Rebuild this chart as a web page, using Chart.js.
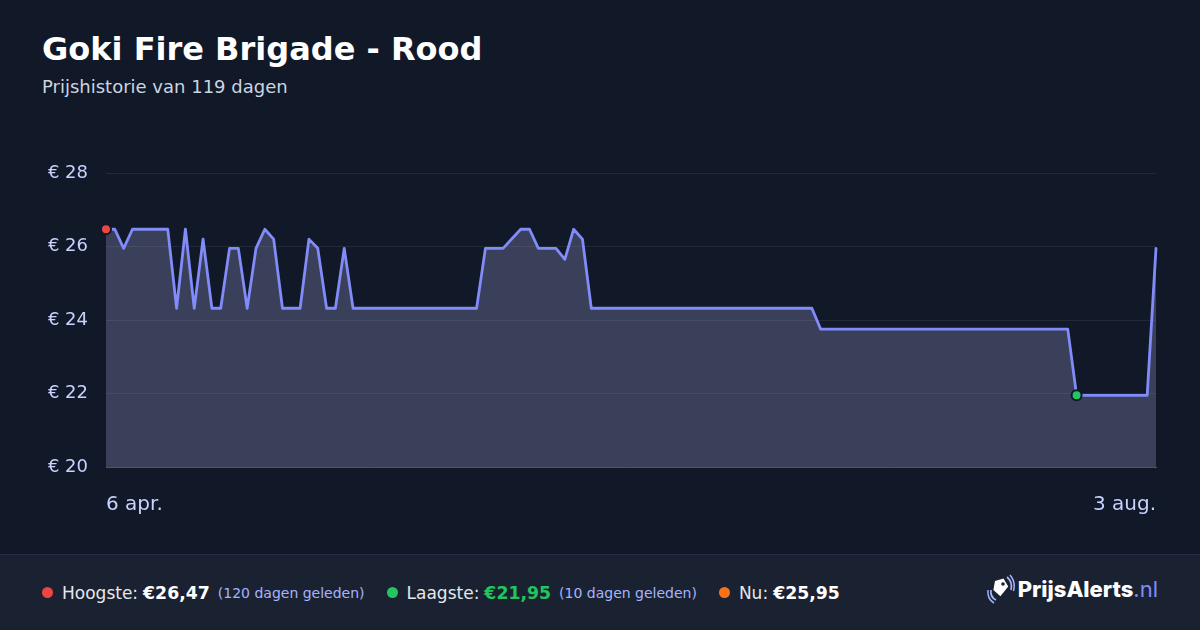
<!DOCTYPE html>
<html>
<head>
<meta charset="utf-8">
<script src="https://cdn.jsdelivr.net/npm/chart.js@4.4.0/dist/chart.umd.min.js"></script>
<style>
  html, body { margin: 0; padding: 0; }
  body {
    width: 1200px; height: 630px; overflow: hidden; position: relative;
    background: #111827; font-family: "DejaVu Sans", sans-serif; color: #fff;
  }
  #title {
    position: absolute; left: 42px; top: 30px; margin: 0;
    font-size: 32px; font-weight: bold; line-height: normal; color: #fff;
  }
  #subtitle {
    position: absolute; left: 42px; top: 76px;
    font-size: 18px; line-height: normal; color: #cbd5e1;
  }
  #chartBox { position: absolute; left: 0; top: 0; width: 1200px; height: 554px; }
  #footer {
    position: absolute; left: 0; top: 554px; width: 1200px; height: 76px;
    box-sizing: border-box; border-top: 1px solid #262c4a; background: #1a2232;
    display: flex; align-items: center; padding-left: 42px; font-size: 17px;
  }
  .stat { display: flex; align-items: center; margin-right: 22px; color: #e5e7eb; }
  .dot { width: 11px; height: 11px; border-radius: 50%; margin-right: 9px; }
  .stat b { color: #fff; margin-left: 5px; font-size: 17.3px; }
  .stat small { font-size: 14px; color: #a5b4fc; margin-left: 8px; }
  #logo {
    position: absolute; right: 42px; top: 19px; display: flex; align-items: center;
    font-family: Inter, sans-serif; font-size: 22px;
  }
  #logo svg { margin-right: 3px; }
  #logo b { font-weight: 800; color: #fff; }
  #logo span { color: #818cf8; font-weight: 400; }
</style>
</head>
<body>
<h1 id="title">Goki Fire Brigade - Rood</h1>
<div id="subtitle">Prijshistorie van 119 dagen</div>
<div id="chartBox"><canvas id="priceLine"></canvas></div>
<div id="footer">
  <div class="stat"><span class="dot" style="background:#ef4444"></span>Hoogste:<b>€26,47</b><small>(120 dagen geleden)</small></div>
  <div class="stat"><span class="dot" style="background:#22c55e"></span>Laagste:<b style="color:#22c55e">€21,95</b><small>(10 dagen geleden)</small></div>
  <div class="stat"><span class="dot" style="background:#f97316"></span>Nu:<b>€25,95</b></div>
  <div id="logo">
    <svg width="30" height="30" viewBox="0 0 30 30">
      <path d="M9 8 L17 4 L23 11 L17 22 L9 17 Z" fill="#fff" transform="rotate(10 15 13)"/>
      <circle cx="18" cy="10" r="1.8" fill="#1a2232"/>
      <path d="M22 3 Q28 8 26 16" stroke="#a5b4fc" stroke-width="1.7" fill="none"/>
      <path d="M25 1 Q31 8 28.5 17" stroke="#a5b4fc" stroke-width="1.5" fill="none"/>
      <path d="M6 16 Q5 23 11 26" stroke="#a5b4fc" stroke-width="1.7" fill="none"/>
      <path d="M3 16 Q2 25 9 29" stroke="#a5b4fc" stroke-width="1.5" fill="none"/>
    </svg>
    <b>PrijsAlerts</b><span>.nl</span>
  </div>
</div>
<script>
// Tick labels shown on the x axis (first and last day)
const xTickLabels = ['6 apr.', '3 aug.'];

// Y axis ticks
const yTicks = [20, 22, 24, 26, 28];

// Daily price (EUR), 6 apr. .. 3 aug.
const prices = [
  26.47, 26.47, 25.95, 26.47, 26.47, 26.47, 26.47, 26.47, 24.32, 26.47,
  24.32, 26.20, 24.32, 24.32, 25.95, 25.95, 24.32, 25.95, 26.47, 26.20,
  24.32, 24.32, 24.32, 26.20, 25.95, 24.32, 24.32, 25.95, 24.32, 24.32,
  24.32, 24.32, 24.32, 24.32, 24.32, 24.32, 24.32, 24.32, 24.32, 24.32,
  24.32, 24.32, 24.32, 25.95, 25.95, 25.95, 26.21, 26.47, 26.47, 25.95,
  25.95, 25.95, 25.65, 26.47, 26.20, 24.32, 24.32, 24.32, 24.32, 24.32,
  24.32, 24.32, 24.32, 24.32, 24.32, 24.32, 24.32, 24.32, 24.32, 24.32,
  24.32, 24.32, 24.32, 24.32, 24.32, 24.32, 24.32, 24.32, 24.32, 24.32,
  24.32, 23.75, 23.75, 23.75, 23.75, 23.75, 23.75, 23.75, 23.75, 23.75,
  23.75, 23.75, 23.75, 23.75, 23.75, 23.75, 23.75, 23.75, 23.75, 23.75,
  23.75, 23.75, 23.75, 23.75, 23.75, 23.75, 23.75, 23.75, 23.75, 23.75,
  21.95, 21.95, 21.95, 21.95, 21.95, 21.95, 21.95, 21.95, 21.95, 25.95
];

// one category per day
const days = prices.map((p, i) => i);

const highIdx = prices.indexOf(Math.max(...prices));
const lowIdx = prices.indexOf(Math.min(...prices));

document.addEventListener("DOMContentLoaded", function () {
    const ctx = document.getElementById('priceLine').getContext('2d');

    new Chart(ctx, {
        type: 'line',
        data: {
            labels: days,
            datasets: [{
                data: prices,
                borderColor: '#818cf8',
                borderWidth: 2.8,
                borderJoinStyle: 'round',
                borderCapStyle: 'round',
                backgroundColor: 'rgba(150,150,200,0.32)',
                fill: 'start',
                tension: 0,
                pointRadius: (c) => (c.dataIndex === highIdx || c.dataIndex === lowIdx) ? 5 : 0,
                pointBackgroundColor: (c) => c.dataIndex === highIdx ? '#ef4444' : '#22c55e',
                pointBorderColor: '#111827',
                pointBorderWidth: 2
            }]
        },
        options: {
            responsive: true,
            maintainAspectRatio: false,
            animation: false,
            layout: { padding: { left: 40, top: 173, right: 44, bottom: 0 } },
            scales: {
                x: {
                    grid: { display: false, drawTicks: false },
                    border: { display: true, color: '#4b5563', width: 1 },
                    afterFit: (s) => { s.height = 87; },
                    ticks: {
                        autoSkip: false,
                        maxRotation: 0,
                        align: 'inner',
                        padding: 26,
                        color: '#c7d2fe',
                        font: { family: 'DejaVu Sans', size: 20 },
                        callback: (v, i) => i === 0 ? xTickLabels[0] : (i === days.length - 1 ? xTickLabels[1] : null)
                    }
                },
                y: {
                    min: yTicks[0],
                    max: yTicks[yTicks.length - 1],
                    grid: { color: 'rgba(255,255,255,0.08)', drawTicks: false },
                    border: { display: false },
                    afterFit: (s) => { s.width = 66; },
                    afterBuildTicks: (s) => { s.ticks = yTicks.map(v => ({ value: v })); },
                    ticks: {
                        padding: 18,
                        color: '#c7d2fe',
                        font: { family: 'DejaVu Sans', size: 18 },
                        callback: (v) => '€ ' + v
                    }
                }
            },
            plugins: {
                legend: { display: false },
                tooltip: { enabled: false }
            }
        }
    });
});
</script>
</body>
</html>
